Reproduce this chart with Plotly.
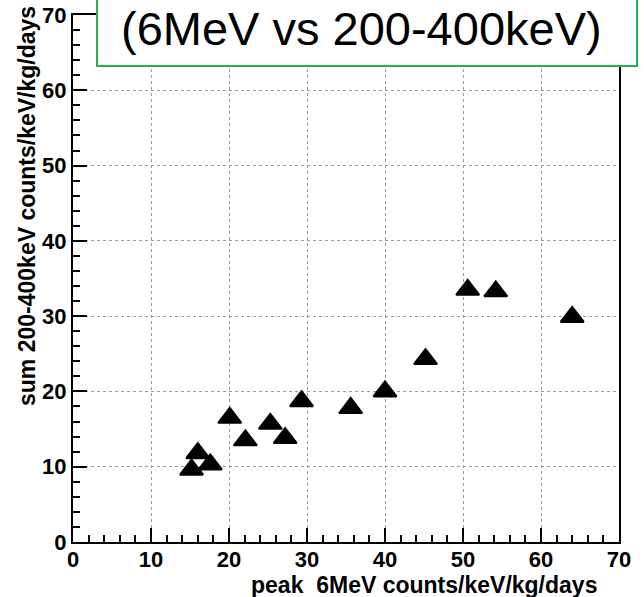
import plotly.graph_objects as go

# data
peak_6mev = [15.2, 16.0, 17.6, 20.1, 22.1, 25.3, 27.2, 29.3, 35.6, 40.0, 45.2, 50.6, 54.2, 64.0]
sum_200_400kev = [9.6, 11.8, 10.3, 16.5, 13.5, 15.7, 13.8, 18.7, 17.8, 20.0, 24.3, 33.5, 33.3, 29.9]
tick_values = [0, 10, 20, 30, 40, 50, 60, 70]
tick_labels = ["0", "10", "20", "30", "40", "50", "60", "70"]

title_text = "(6MeV vs 200-400keV)"
x_title = "peak  6MeV counts/keV/kg/days"
y_title = "sum 200-400keV counts/keV/kg/days"

FONT = "Liberation Sans, Arial, sans-serif"

fig = go.Figure()
fig.add_trace(go.Scatter(
    x=peak_6mev, y=sum_200_400kev, mode="markers",
    marker=dict(symbol="triangle-up", size=20, color="black",
                line=dict(color="black", width=2)),
    showlegend=False, cliponaxis=False,
))

axis_common = dict(
    range=[0, 70], tickmode="array", tickvals=tick_values,
    ticktext=[f"<b>{t}</b>" for t in tick_labels],
    ticks="inside", ticklen=14, tickwidth=2, tickcolor="black",
    showline=True, linewidth=2, linecolor="black", mirror=True,
    showgrid=True, gridcolor="#9a9a9a", griddash="dot", gridwidth=1,
    zeroline=False, automargin=False,
    tickfont=dict(family=FONT, size=22, color="black"),
    minor=dict(dtick=2, tick0=0, ticks="inside", ticklen=7, tickwidth=2,
               tickcolor="black", showgrid=False),
)

fig.update_xaxes(**axis_common)
fig.update_yaxes(**axis_common)
fig.update_xaxes(ticklabelstandoff=-3)

fig.update_layout(
    width=644, height=597,
    margin=dict(l=73, r=25, t=15, b=55),
    plot_bgcolor="white", paper_bgcolor="white",
    font=dict(family=FONT, color="black"),
    shapes=[dict(type="rect", xref="paper", yref="paper",
                 x0=(97 - 73) / 546, x1=(637 - 73) / 546,
                 y0=(542 - 66) / 527, y1=(542 + 5) / 527,
                 line=dict(color="#22b14c", width=2),
                 fillcolor="white", layer="above")],
    annotations=[
        dict(text=title_text, xref="paper", yref="paper",
             x=(361 - 73) / 546, y=(542 - 1) / 527,
             xanchor="center", yanchor="top", showarrow=False,
             borderpad=0,
             font=dict(family=FONT, size=47, color="black")),
        dict(text=f"<b>{x_title}</b>", xref="paper", yref="paper",
             x=(598 - 73) / 546, y=(542 - 585) / 527,
             xanchor="right", yanchor="middle", showarrow=False,
             borderpad=0,
             font=dict(family=FONT, size=23, color="black")),
        dict(text=f"<b>{y_title}</b>", xref="paper", yref="paper",
             x=(27 - 73) / 546, y=(542 - 4) / 527, textangle=-90,
             xanchor="center", yanchor="top", showarrow=False,
             font=dict(family=FONT, size=23, color="black")),
    ],
)

fig.write_html("out.html")
